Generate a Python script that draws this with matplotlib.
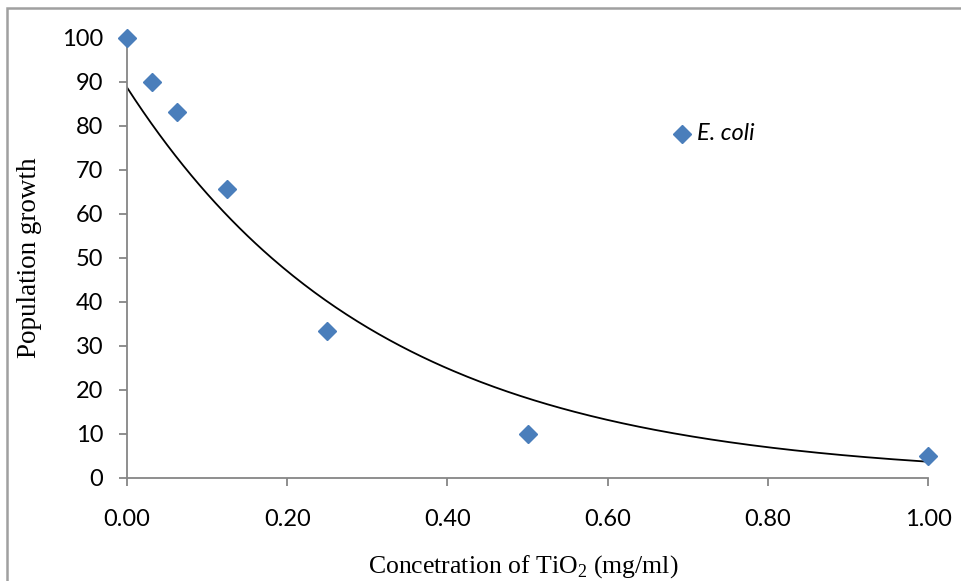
import numpy as np
import matplotlib.pyplot as plt
from matplotlib.patches import Rectangle

# data
conc = [0.0, 0.03125, 0.0625, 0.125, 0.25, 0.5, 1.0]
growth = [100.0, 90.1, 83.1, 65.6, 33.3, 10.0, 5.1]
x_ticks = [0.0, 0.2, 0.4, 0.6, 0.8, 1.0]
y_ticks = list(range(0, 101, 10))

blue = '#4a7ebb'
axis_grey = '#868686'

plt.rcParams['font.family'] = ['Lato', 'DejaVu Sans']
plt.rcParams['mathtext.fontset'] = 'custom'
plt.rcParams['mathtext.rm'] = 'Liberation Serif'

# exponential trendline, fitted like Excel does (least squares on ln y)
b, ln_a = np.polyfit(conc, np.log(growth), 1)
xs = np.linspace(0, 1, 300)
trend = np.exp(ln_a) * np.exp(b * xs)

fig = plt.figure(figsize=(9.62, 5.81), dpi=100)
ax = fig.add_axes([0.132, 0.1773, 0.8327, 0.7573])

ax.plot(xs, trend, color='black', lw=1.3, zorder=2)
ax.plot(conc, growth, 'D', color=blue, ms=9.2, mec=blue, clip_on=False, zorder=3)

ax.set_xlim(0, 1)
ax.set_ylim(0, 100)
ax.set_xticks(x_ticks)
ax.set_xticklabels([f'{v:.2f}' for v in x_ticks])
ax.set_yticks(y_ticks)

for s in ['top', 'right']:
    ax.spines[s].set_visible(False)
for s in ['left', 'bottom']:
    ax.spines[s].set_color(axis_grey)
    ax.spines[s].set_linewidth(1.3)

ax.tick_params(axis='both', direction='out', length=6, width=1.3, color=axis_grey,
               labelsize=17, labelcolor='black')
ax.tick_params(axis='x', pad=16)
ax.tick_params(axis='y', pad=11)

ax.set_xlabel('Concetration of TiO$_\\mathrm{2}$ (mg/ml)', family='Liberation Serif', fontsize=18.5)
ax.set_ylabel('Population growth', family='Liberation Serif', fontsize=19.5)
ax.xaxis.set_label_coords(0.495, -0.17)
ax.yaxis.set_label_coords(-0.106, 0.5)

# legend entry
ax.plot([0.693], [78.2], 'D', color=blue, ms=9, mec=blue)
ax.text(0.712, 78.2, 'E. coli', style='italic', fontsize=17, va='center')

# outer chart frame
fig.patches.append(Rectangle((7 / 962, -0.1), 1.2, (581 - 8) / 581 + 0.1,
                             transform=fig.transFigure, fill=False,
                             edgecolor='#a0a0a0', lw=1.8))

fig.savefig('out.png', dpi=100)
